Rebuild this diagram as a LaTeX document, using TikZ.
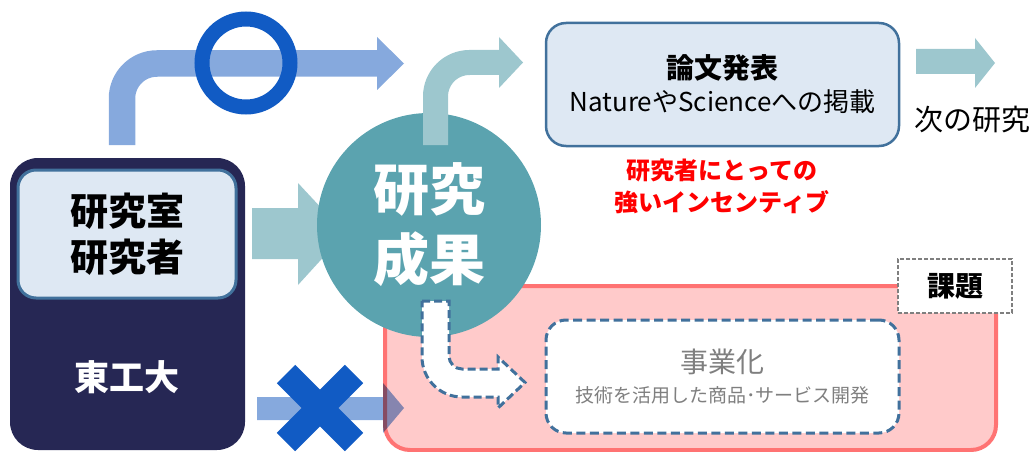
\documentclass[tikz,border=0pt]{standalone}
\usepackage{fontspec}
\setmainfont{Noto Sans CJK JP}
\definecolor{navy}{HTML}{262754}
\definecolor{lightbox}{HTML}{DEE8F3}
\definecolor{steel}{HTML}{41719C}
\definecolor{tealc}{HTML}{5BA3AF}
\definecolor{tealarrow}{HTML}{9DC7CE}
\definecolor{bluearrow}{HTML}{86A9DD}
\definecolor{deepblue}{HTML}{115BC4}
\definecolor{pinkfill}{HTML}{FFCACA}
\definecolor{pinkline}{HTML}{FF7373}
\definecolor{graytext}{HTML}{7F7F7F}
\definecolor{redtext}{HTML}{FF0000}
\tikzset{
  lbox/.style={draw=steel, line width=2.5pt, fill=lightbox, rounded corners=20pt, align=center},
  dashbox/.style={draw=steel, line width=3pt, dash pattern=on 9pt off 4.5pt, fill=white, rounded corners=20pt, align=center},
  fatline/.style={line width=26pt},
}
\begin{document}
\begin{tikzpicture}[x=1pt,y=-1pt]
\useasboundingbox (0,0) rectangle (1034,452);
\clip (0,0) rectangle (1034,452);

% pink issue area
\draw[fill=pinkfill, draw=pinkline, line width=4pt, rounded corners=25pt] (385,286) rectangle (996,450);

% Tokyo Tech box
\fill[navy, rounded corners=28pt] (10,158) rectangle (245,450);
\node[lbox, rounded corners=18pt, line width=3pt, minimum width=218pt, minimum height=128pt,
      font=\fontsize{38}{46}\selectfont\bfseries] (lab) at (127,234) {研究室\\研究者};
\node[text=white, font=\fontsize{35}{40}\selectfont\bfseries] (tokodai) at (127,377) {東工大};

% top blue arrow
\coordinate (ba0) at (122,145);
\coordinate (ba1) at (122,63.5);
\coordinate (ba2) at (378,63.5);
\draw[bluearrow, fatline, line width=26.5pt, rounded corners=35pt] (ba0) -- (ba1) -- (ba2);
\fill[bluearrow] (377,37) -- (404,63.5) -- (377,90) -- cycle;
\draw[deepblue, line width=15pt] (246,63) circle[radius=44pt];

% big teal arrow into circle
\fill[tealarrow] (252,208) -- (298,208) -- (298,183) -- (345,233.5) -- (298,285) -- (298,259) -- (252,259) -- cycle;

% research result circle
\node[circle, fill=tealc, minimum size=224pt, inner sep=0pt, text=white, align=center,
      font=\fontsize{56}{70}\selectfont\bfseries] (result) at (429,225) {研究\\成果};

% small teal curved arrow up
\coordinate (ta0) at (435.5,145);
\coordinate (ta1) at (435.5,62.5);
\coordinate (ta2) at (500,62.5);
\draw[tealarrow, line width=25pt, rounded corners=34pt] (ta0) -- (ta1) -- (ta2);
\fill[tealarrow] (499,37) -- (523,62.5) -- (499,88) -- cycle;

% paper box
\node[lbox, minimum width=353pt, minimum height=123pt, font=\fontsize{26}{33}\selectfont] (paper) at (722.5,84.5)
  {{\fontsize{28}{33}\selectfont\bfseries 論文発表}\\NatureやScienceへの掲載};

% next arrow
\fill[tealarrow] (916,49) -- (975,49) -- (975,38) -- (995,63) -- (975,88) -- (975,74) -- (916,74) -- cycle;
\node[font=\fontsize{29}{32}\selectfont] (next) at (972,120) {次の研究};

% red incentive text
\node[text=redtext, align=center, font=\fontsize{24}{32}\selectfont\bfseries] (incent) at (722,186)
  {研究者にとっての\\強いインセンティブ};

% bottom blue arrow with cross
\fill[bluearrow, blend mode=multiply] (257,397) -- (383,397) -- (383,383) -- (404,408) -- (383,433) -- (383,420) -- (257,420) -- cycle;
\draw[deepblue, line width=26pt] (286,374) -- (354,442);
\draw[deepblue, line width=26pt] (286,442) -- (354,374);

% white dashed arrow
\draw[fill=white, draw=steel, line width=3pt, dash pattern=on 8pt off 4pt, line join=miter]
  (422,301) -- (449,301) -- (449,356) arc[start angle=180, end angle=90, radius=13]
  -- (498,369) -- (498,357) -- (525,382.5) -- (498,408) -- (498,397) -- (462,397)
  arc[start angle=90, end angle=180, radius=40] -- cycle;

% business box
\node[dashbox, minimum width=353pt, minimum height=113pt, text=graytext, font=\fontsize{19}{30}\selectfont] (biz) at (722.5,376.5)
  {{\fontsize{28}{30}\selectfont 事業化}\\技術を活用した商品･サービス開発};

% issue label
\node[draw=graytext, fill=white, line width=1.5pt, dash pattern=on 4pt off 2pt, minimum width=114pt, minimum height=54pt,
      font=\fontsize{28}{32}\selectfont\bfseries] (issue) at (955,286) {課題};
\end{tikzpicture}
\end{document}
